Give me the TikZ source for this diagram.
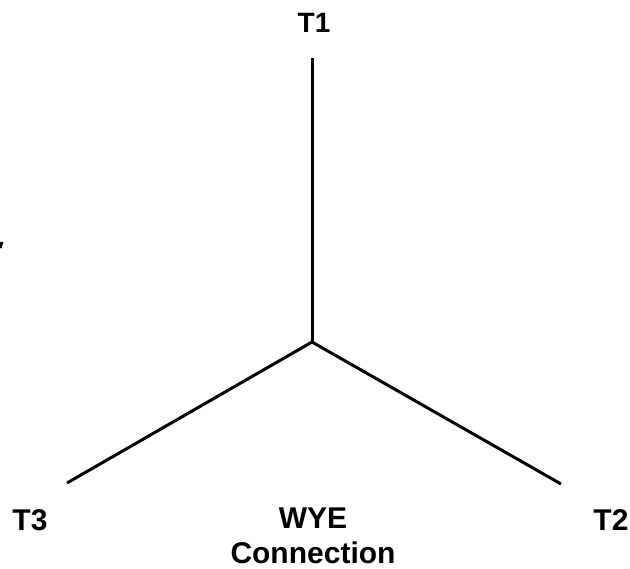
\documentclass[tikz,border=0pt]{standalone}
\usepackage{fontspec}
\setmainfont{Liberation Sans}
\usetikzlibrary{positioning,calc}
\tikzset{
	termlabel/.style={font=\fontsize{30}{35}\selectfont\bfseries, align=center, inner sep=0pt},
	phase/.style={line width=3pt}
}
\begin{document}
\begin{tikzpicture}[x=1pt,y=-1pt]
		\useasboundingbox (0,0) rectangle (630,569);
		\coordinate (n) at (312,342);
		\coordinate (t1) at (312,58);
		\coordinate (t2) at (561,484);
		\coordinate (t3) at (67,483);
		\coordinate (tick) at (0,248);
		\coordinate (tick1) at (2,242);
		
		\node[termlabel,font=\fontsize{28}{34}\selectfont\bfseries] (l1) at (314,23) {T1};
		\node[termlabel] (l2) at (611,520) {T2};
		\node[termlabel] (l3) at (30,520) {T3};
		\node[termlabel] (wye) at (313,536) {WYE\\Connection};
		
		\draw[phase] (n)--(t1);
		\draw[phase] (n)--(t2);
		\draw[phase] (n)--(t3);
		\draw[phase] (tick)--(tick1);
	\end{tikzpicture}
\end{document}
